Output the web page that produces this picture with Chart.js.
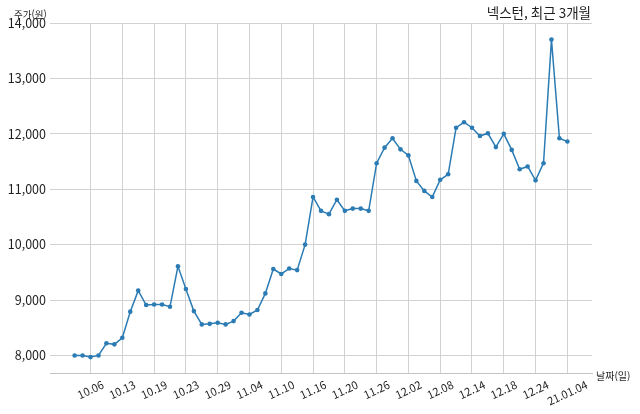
<!DOCTYPE html>
<html lang="ko">
<head>
<meta charset="utf-8">
<title>넥스턴, 최근 3개월</title>
<script src="https://cdn.jsdelivr.net/npm/chart.js@4.4.1/dist/chart.umd.min.js"></script>
<style>
  html, body { margin: 0; padding: 0; background: #fff; }
  #chart { display: block; }
</style>
</head>
<body>
<canvas id="chart" width="640" height="414"></canvas>
<script>
// trading days, 2020.09.29 ~ 2021.01.04
const dates = [
  '09.29', '10.05', '10.06', '10.07', '10.08', '10.12', '10.13', '10.14', '10.15', '10.16',
  '10.19', '10.20', '10.21', '10.22', '10.23', '10.26', '10.27', '10.28', '10.29', '10.30',
  '11.02', '11.03', '11.04', '11.05', '11.06', '11.09', '11.10', '11.11', '11.12', '11.13',
  '11.16', '11.17', '11.18', '11.19', '11.20', '11.23', '11.24', '11.25', '11.26', '11.27',
  '11.30', '12.01', '12.02', '12.03', '12.04', '12.07', '12.08', '12.09', '12.10', '12.11',
  '12.14', '12.15', '12.16', '12.17', '12.18', '12.21', '12.22', '12.23', '12.24', '12.28',
  '12.29', '12.30', '21.01.04'
];

// closing price (won)
const prices = [
  8000, 8000, 7970, 8000, 8220, 8200, 8320, 8790, 9170, 8910,
  8920, 8920, 8880, 9610, 9200, 8800, 8560, 8570, 8590, 8560,
  8620, 8770, 8740, 8820, 9120, 9560, 9470, 9570, 9540, 10000,
  10860, 10610, 10550, 10810, 10610, 10650, 10650, 10610, 11470, 11750,
  11920, 11720, 11610, 11150, 10970, 10860, 11170, 11270, 12110, 12210,
  12110, 11960, 12010, 11760, 12000, 11710, 11360, 11410, 11160, 11470,
  13700, 11920, 11860
];

const yTicks = [8000, 9000, 10000, 11000, 12000, 13000, 14000];

// a date label every 4th trading day, starting at 10.06
const labelStart = 2;
const labelStep = 4;

const titleText = '넥스턴, 최근 3개월';
const yTitle = '주가(원)';
const xTitle = '날짜(일)';

const lineColor = '#2b7bb4';
const gridColor = '#d2d2d2';
const textColor = '#1e1e1e';
const fontFamily = '"Noto Sans CJK KR", "Noto Sans", sans-serif';

const points = prices.map((v, i) => ({ x: i, y: v }));
const xTickIdx = dates.map((d, i) => i).filter(i => (i - labelStart) % labelStep === 0);

// matplotlib-like 5% margins on x
const span = dates.length - 1;
const xMin = -span * 0.05;
const xMax = span * 1.05;

// rotated date labels centred under the tick, plus title and axis names
const textPlugin = {
  id: 'textPlugin',
  afterDraw(chart) {
    const ctx = chart.ctx;
    const xs = chart.scales.x;
    const area = chart.chartArea;
    const ang = 25 * Math.PI / 180;
    const fs = 11;

    ctx.save();
    ctx.fillStyle = textColor;
    ctx.font = fs + 'px ' + fontFamily;
    xs.ticks.forEach(t => {
      const txt = dates[t.value];
      const w = ctx.measureText(txt).width;
      const bh = w * Math.sin(ang) + fs * Math.cos(ang);
      const cx = xs.getPixelForValue(t.value);
      const cy = area.bottom + 6 + bh / 2;
      ctx.save();
      ctx.translate(cx, cy);
      ctx.rotate(-ang);
      ctx.textAlign = 'center';
      ctx.textBaseline = 'middle';
      ctx.fillText(txt, 0, 0);
      ctx.restore();
    });

    ctx.textBaseline = 'middle';
    ctx.font = '13.5px ' + fontFamily;
    ctx.textAlign = 'right';
    ctx.fillText(titleText, 591, 13);

    ctx.font = '9.5px ' + fontFamily;
    ctx.textAlign = 'left';
    ctx.fillText(yTitle, 14, 14.5);

    ctx.font = '10px ' + fontFamily;
    ctx.fillText(xTitle, 596, 376);
    ctx.restore();
  }
};

new Chart(document.getElementById('chart'), {
  type: 'line',
  data: {
    datasets: [{
      label: '주가',
      data: points,
      borderColor: lineColor,
      backgroundColor: lineColor,
      borderWidth: 1.5,
      pointRadius: 2.3,
      pointBorderWidth: 0,
      pointBackgroundColor: lineColor,
      tension: 0,
      fill: false
    }]
  },
  options: {
    responsive: false,
    animation: false,
    devicePixelRatio: 1,
    layout: {
      padding: { top: 23, right: 48, bottom: 0, left: 0 }
    },
    plugins: {
      legend: { display: false },
      tooltip: { enabled: false },
      title: { display: false }
    },
    scales: {
      x: {
        type: 'linear',
        min: xMin,
        max: xMax,
        afterBuildTicks: scale => {
          scale.ticks = xTickIdx.map(v => ({ value: v }));
        },
        afterFit: scale => { scale.height = 41; },
        ticks: { display: false },
        grid: { color: gridColor, lineWidth: 1, drawTicks: false },
        border: { display: true, color: '#c4c4c4', width: 1 }
      },
      y: {
        type: 'linear',
        min: 7683,
        max: 14000,
        afterBuildTicks: scale => {
          scale.ticks = yTicks.map(v => ({ value: v }));
        },
        afterFit: scale => { scale.width = 50; },
        ticks: {
          padding: 4,
          color: textColor,
          font: { family: fontFamily, size: 12.5 },
          callback: v => v.toLocaleString('en-US')
        },
        grid: { color: gridColor, lineWidth: 1, drawTicks: false },
        border: { display: false }
      }
    }
  },
  plugins: [textPlugin]
});
</script>
</body>
</html>
